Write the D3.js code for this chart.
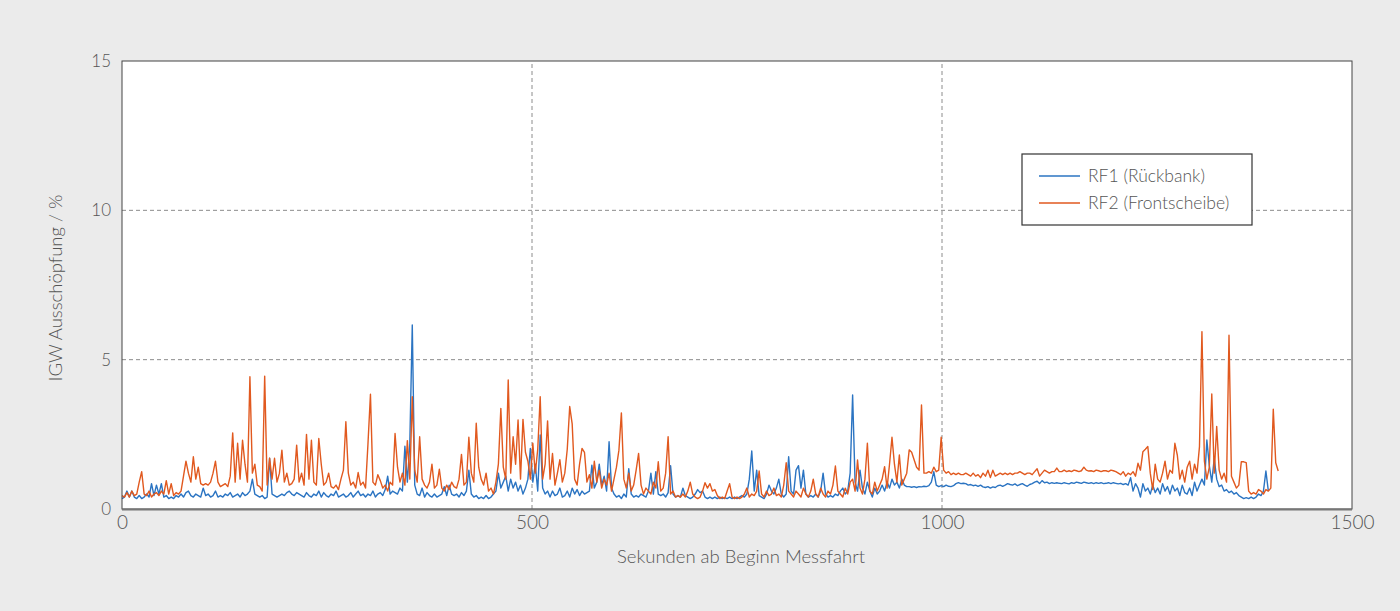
<!DOCTYPE html>
<html>
<head>
<meta charset="utf-8">
<script src="https://cdn.jsdelivr.net/npm/d3@7"></script>
<style>
  html, body { margin: 0; padding: 0; background: #ebebeb; }
  svg { display: block; }
  text { font-family: Lato, "Open Sans", "DejaVu Sans", sans-serif; font-weight: 300; fill: #555; }
</style>
</head>
<body>
<svg id="chart" width="1400" height="611"></svg>
<script>
const sampleStep = 3; // seconds between samples
const seriesNames = ["RF1 (Rückbank)", "RF2 (Frontscheibe)"];
const xTicks = [0, 500, 1000, 1500];
const yTicks = [0, 5, 10, 15];
const xTitle = "Sekunden ab Beginn Messfahrt";
const yTitle = "IGW Ausschöpfung / %";

const rf1 = [
  0.35,0.4,0.6,0.4,0.6,0.4,0.35,0.45,0.35,0.4,0.5,0.4,0.85,0.45,0.8,0.5,0.85,0.4,0.45,0.35,
  0.4,0.35,0.45,0.4,0.5,0.4,0.55,0.6,0.45,0.4,0.5,0.45,0.4,0.7,0.45,0.5,0.4,0.45,0.6,0.4,
  0.45,0.4,0.5,0.45,0.55,0.4,0.45,0.5,0.4,0.55,0.45,0.5,0.6,1.0,0.5,0.45,0.4,0.45,0.35,0.4,
  1.7,0.5,0.45,0.4,0.45,0.5,0.45,0.55,0.6,0.5,0.45,0.55,0.5,0.45,0.4,0.55,0.45,0.4,0.5,0.45,
  0.6,0.4,0.55,0.45,0.4,0.5,0.45,0.6,0.4,0.45,0.5,0.4,0.45,0.55,0.4,0.5,0.6,0.45,0.5,0.4,
  0.5,0.45,0.6,0.4,0.5,0.55,0.45,0.65,1.1,0.5,0.6,0.55,0.5,0.7,0.6,2.1,0.9,2.2,6.16,0.8,
  0.5,0.45,0.7,0.4,0.55,0.45,0.4,0.5,0.4,0.45,0.5,0.75,0.45,0.8,0.5,0.45,0.5,0.4,0.55,0.45,
  0.6,1.3,0.5,0.4,0.45,0.35,0.4,0.35,0.45,0.35,0.4,0.5,0.6,1.2,0.7,0.9,1.1,0.6,1.0,0.7,
  0.9,0.6,0.8,0.5,0.7,1.0,2.03,0.9,1.5,0.6,2.48,0.7,0.5,0.6,0.4,0.6,0.45,0.5,0.7,0.4,
  0.45,0.6,0.4,0.7,0.5,0.65,0.45,0.6,0.5,0.55,0.6,1.47,0.7,0.9,1.5,0.8,1.1,0.6,2.25,0.7,
  0.5,0.4,0.45,0.35,0.5,0.4,1.35,0.5,0.4,0.45,0.4,0.5,0.45,0.4,0.6,1.2,0.5,1.25,0.5,0.45,
  0.5,0.4,0.55,1.45,0.5,0.4,0.45,0.4,0.7,0.45,0.4,0.35,0.4,0.5,0.65,0.55,0.6,0.4,0.35,0.4,
  0.35,0.4,0.35,0.4,0.35,0.38,0.35,0.4,0.35,0.4,0.35,0.4,0.45,0.4,0.5,1.0,1.94,0.6,1.3,0.45,
  0.4,0.35,0.5,0.8,0.6,0.5,0.7,1.0,0.5,0.4,0.5,1.75,0.6,0.5,1.3,1.45,0.7,1.3,0.5,0.4,
  0.45,0.4,0.5,0.4,0.6,1.2,0.5,0.4,0.45,0.4,0.5,0.45,0.6,0.7,0.5,0.6,1.2,3.82,0.9,0.6,
  1.3,0.7,0.5,0.9,0.6,0.4,0.7,0.5,0.6,0.8,0.6,0.9,0.7,1.0,0.8,0.9,0.7,1.0,0.8,0.75,
  0.75,0.73,0.75,0.72,0.75,0.74,0.76,0.75,0.78,0.9,1.25,0.8,0.75,0.78,0.75,0.8,0.76,0.75,0.78,0.85,
  0.88,0.85,0.86,0.85,0.8,0.82,0.78,0.8,0.76,0.8,0.74,0.72,0.75,0.7,0.74,0.72,0.78,0.8,0.76,0.8,
  0.85,0.82,0.8,0.84,0.78,0.82,0.85,0.8,0.76,0.82,0.85,0.9,0.93,0.85,0.95,0.88,0.9,0.85,0.88,0.86,
  0.88,0.86,0.85,0.88,0.86,0.84,0.88,0.86,0.9,0.88,0.86,0.9,0.88,0.86,0.88,0.85,0.88,0.86,0.88,0.85,
  0.86,0.88,0.85,0.88,0.86,0.84,0.86,0.82,0.85,0.8,1.05,0.6,0.85,0.7,0.4,0.85,0.6,0.7,0.5,0.8,
  0.55,0.7,0.5,0.85,0.6,0.75,0.5,0.8,0.6,0.7,0.45,0.8,0.55,0.5,0.7,0.45,0.9,0.6,0.8,1.0,
  0.8,2.31,1.45,0.9,1.7,1.0,0.75,0.8,0.6,0.65,0.55,0.6,0.5,0.55,0.45,0.4,0.35,0.38,0.35,0.4,
  0.35,0.4,0.5,0.45,0.6,1.27,0.6
];

const rf2 = [
  0.45,0.4,0.55,0.4,0.6,0.45,0.5,0.9,1.25,0.5,0.45,0.6,0.4,0.5,0.55,0.45,0.6,0.5,0.95,0.5,
  0.85,0.45,0.55,0.5,0.6,1.1,1.6,1.2,0.9,1.75,1.0,1.4,0.85,0.8,0.85,0.8,0.9,1.2,1.6,0.9,
  0.75,0.8,0.85,0.75,1.1,2.55,0.9,2.2,1.0,2.3,1.5,0.9,4.43,1.2,1.5,0.8,0.75,0.6,4.45,0.8,
  1.7,1.0,1.7,0.9,1.2,1.97,0.9,1.2,0.8,0.85,1.0,2.14,0.9,1.2,0.8,2.5,1.0,2.3,0.9,0.8,
  2.36,1.5,0.8,0.9,1.2,0.75,0.7,0.8,0.65,1.0,1.3,2.92,1.2,0.8,0.9,0.7,1.22,0.8,0.9,0.7,
  2.2,3.84,0.9,0.8,1.15,0.95,0.7,0.8,0.6,0.9,0.8,2.53,1.4,0.9,1.2,0.8,2.29,1.0,3.76,1.3,
  0.9,2.42,1.0,0.8,0.7,0.9,1.5,0.7,0.8,1.33,0.7,0.6,0.8,0.65,0.9,0.75,0.7,1.0,1.83,0.8,
  0.9,2.4,1.2,0.9,2.87,1.4,1.0,0.8,1.2,0.6,0.7,0.5,0.9,1.5,3.37,1.4,1.0,4.32,1.2,2.42,
  1.5,2.98,1.0,3.0,1.9,1.6,1.0,2.2,1.2,2.0,3.76,1.0,1.5,2.95,1.0,1.86,0.8,1.2,1.65,0.9,
  1.2,2.0,3.43,2.85,1.0,0.8,1.5,2.03,1.9,0.9,1.15,0.7,1.6,0.9,1.3,0.7,1.0,0.8,1.2,0.6,
  1.0,1.4,1.97,3.22,1.0,0.7,1.2,0.6,0.8,1.3,1.86,0.8,0.5,0.7,0.6,0.5,0.9,0.7,1.58,0.6,
  0.7,1.2,2.42,0.5,0.6,0.4,0.45,0.4,0.5,0.4,0.6,0.9,0.5,0.4,0.35,0.4,0.6,0.88,0.7,0.85,
  0.6,0.65,0.45,0.35,0.4,0.35,0.6,0.85,0.4,0.35,0.4,0.35,0.4,0.5,0.7,0.4,0.5,0.45,0.6,1.27,
  0.5,0.4,0.6,0.45,0.5,0.7,0.45,0.5,0.4,0.8,1.55,0.6,0.5,0.4,0.6,0.5,0.4,0.7,0.5,0.4,
  0.6,1.0,0.5,0.4,0.7,0.5,0.4,0.6,0.5,0.8,1.44,0.6,0.5,0.4,0.7,0.5,0.9,1.0,0.6,1.64,
  0.7,0.5,1.0,2.2,0.6,0.5,0.9,0.6,0.8,1.0,1.42,0.7,1.5,2.4,1.5,0.9,1.81,0.8,1.0,1.2,
  1.98,1.9,1.65,1.4,1.3,3.48,1.2,1.2,1.25,1.2,1.4,1.25,1.3,2.4,1.3,1.2,1.25,1.15,1.2,1.15,
  1.2,1.15,1.15,1.2,1.15,1.1,1.2,1.1,1.15,1.05,1.2,1.1,1.3,1.05,1.3,1.1,1.15,1.2,1.15,1.2,
  1.15,1.2,1.15,1.2,1.2,1.25,1.2,1.15,1.2,1.2,1.15,1.25,1.35,1.1,1.2,1.3,1.25,1.2,1.25,1.25,
  1.37,1.25,1.25,1.3,1.25,1.28,1.25,1.3,1.28,1.25,1.28,1.4,1.3,1.27,1.28,1.25,1.3,1.28,1.25,1.28,
  1.28,1.25,1.3,1.28,1.25,1.2,1.15,1.25,1.1,1.2,1.15,1.25,1.1,1.53,1.3,1.92,2.0,2.09,1.2,0.65,
  1.5,1.0,0.9,1.2,1.6,1.0,1.3,1.2,2.2,1.8,1.0,1.3,0.9,1.4,1.6,1.0,1.5,1.2,2.09,5.94,
  1.6,1.0,1.4,3.85,1.2,2.76,1.3,1.0,1.2,0.9,5.82,1.1,0.9,0.7,0.8,1.58,1.58,1.55,0.6,0.5,
  0.55,0.5,0.65,0.6,0.5,0.65,0.6,0.7,3.34,1.55,1.27
];

// ---- layout ----
const W = 1400, H = 611;
const margin = { left: 122, right: 48, top: 61, bottom: 102 };
const svg = d3.select("#chart");

const x = d3.scaleLinear().domain([0, 1500]).range([margin.left, W - margin.right]);
const y = d3.scaleLinear().domain([0, 15]).range([H - margin.bottom, margin.top]);

// plot background
svg.append("rect")
  .attr("x", x(0)).attr("y", y(15))
  .attr("width", x(1500) - x(0)).attr("height", y(0) - y(15))
  .attr("fill", "#ffffff");

// grid lines (dashed)
const grid = svg.append("g");
grid.selectAll("line.gx").data(xTicks.filter(d => d > 0 && d < 1500)).join("line")
  .attr("x1", d => x(d)).attr("x2", d => x(d))
  .attr("y1", y(0)).attr("y2", y(15))
  .attr("stroke", "#8c8c8c").attr("stroke-width", 1).attr("stroke-dasharray", "4,3");
grid.selectAll("line.gy").data(yTicks.filter(d => d > 0 && d < 15)).join("line")
  .attr("y1", d => y(d)).attr("y2", d => y(d))
  .attr("x1", x(0)).attr("x2", x(1500))
  .attr("stroke", "#8c8c8c").attr("stroke-width", 1).attr("stroke-dasharray", "4,3");

// series lines
const toPts = arr => arr.map((v, i) => [i * sampleStep, v]);
const line = d3.line().x(d => x(d[0])).y(d => y(d[1]));
const colors = ["#2b74c2", "#e1591f"];

svg.append("path").datum(toPts(rf1))
  .attr("d", line).attr("fill", "none")
  .attr("stroke", colors[0]).attr("stroke-width", 1.4).attr("stroke-linejoin", "round");
svg.append("path").datum(toPts(rf2))
  .attr("d", line).attr("fill", "none")
  .attr("stroke", colors[1]).attr("stroke-width", 1.4).attr("stroke-linejoin", "round");

// plot frame
svg.append("rect")
  .attr("x", x(0)).attr("y", y(15))
  .attr("width", x(1500) - x(0)).attr("height", y(0) - y(15))
  .attr("fill", "none").attr("stroke", "#444").attr("stroke-width", 1);
svg.append("line")
  .attr("x1", x(0)).attr("x2", x(1500)).attr("y1", y(0) + 0.5).attr("y2", y(0) + 0.5)
  .attr("stroke", "#777").attr("stroke-width", 2);

// axes (labels only)
const xAxis = d3.axisBottom(x).tickValues(xTicks).tickSize(0).tickPadding(7).tickFormat(d3.format("d"));
const gx = svg.append("g").attr("transform", `translate(0,${y(0)})`).call(xAxis);
gx.select(".domain").remove();
gx.selectAll("text").attr("font-size", 19).attr("fill", "#555")
  .style("font-family", "Lato, 'Open Sans', sans-serif").style("font-weight", 300);

const yAxis = d3.axisLeft(y).tickValues(yTicks).tickSize(0).tickPadding(11).tickFormat(d3.format("d"));
const gy = svg.append("g").attr("transform", `translate(${x(0)},0)`).call(yAxis);
gy.select(".domain").remove();
gy.selectAll("text").attr("font-size", 17).attr("fill", "#555")
  .style("font-family", "Lato, 'Open Sans', sans-serif").style("font-weight", 300);

// axis titles
svg.append("text")
  .attr("x", 741).attr("y", 563)
  .attr("text-anchor", "middle").attr("font-size", 18.5)
  .text(xTitle);
svg.append("text")
  .attr("transform", `translate(62,${(y(0) + y(15)) / 2 + 3}) rotate(-90)`)
  .attr("text-anchor", "middle").attr("font-size", 18.5)
  .text(yTitle);

// legend
const lg = svg.append("g");
lg.append("rect").attr("x", 1022).attr("y", 154).attr("width", 230).attr("height", 71)
  .attr("fill", "#fff").attr("stroke", "#333").attr("stroke-width", 1.2);
seriesNames.forEach((name, i) => {
  const yy = 176 + i * 27;
  lg.append("line").attr("x1", 1039).attr("x2", 1080).attr("y1", yy).attr("y2", yy)
    .attr("stroke", colors[i]).attr("stroke-width", 1.4);
  lg.append("text").attr("x", 1088).attr("y", yy).attr("dy", "0.35em")
    .attr("font-size", 17.5).text(name);
});
</script>
</body>
</html>
